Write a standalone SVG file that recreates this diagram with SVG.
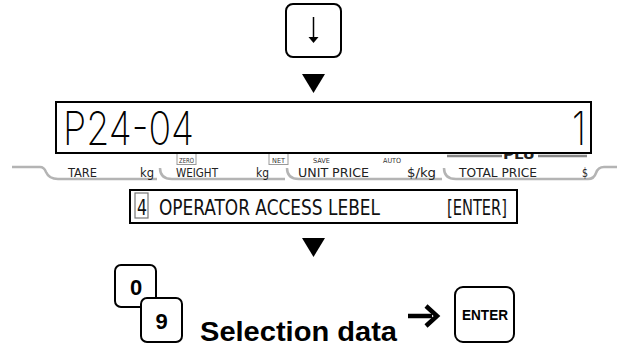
<svg xmlns="http://www.w3.org/2000/svg" width="620" height="349" viewBox="0 0 620 349">
<style>
.key{fill:#fff;stroke:#000;stroke-width:2}
.tri{fill:#000}
.tab{fill:none;stroke:#b4b4b4;stroke-width:2.5}
.lbl{font-family:"Liberation Sans Narrow","DejaVu Sans Condensed","Liberation Sans",sans-serif;font-size:12px;fill:#222}
.sm{font-family:"Liberation Sans Narrow","DejaVu Sans Condensed","Liberation Sans",sans-serif;font-size:7px;fill:#333}
.seg{font-family:Inter,"DejaVu Sans",sans-serif;font-weight:200;font-size:46px;fill:#000}
.msg{font-family:"Liberation Sans Narrow","DejaVu Sans Condensed","Liberation Sans",sans-serif;font-size:21px;fill:#111}
.kt{font-family:"Liberation Sans",Arial,sans-serif;font-weight:bold;fill:#000}
</style>
<g id="key-down">
<rect class="key" x="286" y="4" width="55" height="53" rx="7"/>
<line x1="313.5" y1="17" x2="313.5" y2="40" stroke="#000" stroke-width="1.5"/>
<path d="M308.5 37 L318.5 37 L313.5 43 Z" fill="#000"/>
</g>
<g id="connectors">
<path class="tri" d="M302 74 L325 74 L313.5 93 Z"/>
<path class="tri" d="M302 238 L325 238 L313.5 257 Z"/>
<line x1="408" y1="316" x2="432" y2="316" stroke="#000" stroke-width="4.5"/>
<path d="M426 306 L437 316 L426 326" fill="none" stroke="#000" stroke-width="4.5"/>
</g>
<g id="strip">
<text class="lbl" x="503" y="159" font-weight="bold" font-size="13" textLength="32" lengthAdjust="spacingAndGlyphs">PLU</text>
<line x1="447" y1="156" x2="502" y2="156" stroke="#888" stroke-width="2.5"/>
<line x1="538" y1="156" x2="587" y2="156" stroke="#888" stroke-width="2.5"/>
<path class="tab" d="M12 167 H40 Q44 167 46 172 Q49 179 58 179 H157"/>
<path class="tab" d="M160 168 Q160 179 172 179 H285"/>
<path class="tab" d="M287 168 Q287 179 299 179 H442"/>
<path class="tab" d="M444 168 Q444 179 456 179 H588 Q594 179 596 173 Q598 167 604 167 H617"/>
<text class="lbl" x="68" y="177" textLength="29" lengthAdjust="spacingAndGlyphs">TARE</text>
<text class="lbl" x="140" y="177" textLength="14" lengthAdjust="spacingAndGlyphs">kg</text>
<text class="lbl" x="176" y="177" textLength="42" lengthAdjust="spacingAndGlyphs">WEIGHT</text>
<text class="lbl" x="256" y="177" textLength="13" lengthAdjust="spacingAndGlyphs">kg</text>
<text class="lbl" x="298" y="177" textLength="71" lengthAdjust="spacingAndGlyphs">UNIT PRICE</text>
<text class="lbl" x="407" y="177" textLength="29" lengthAdjust="spacingAndGlyphs">$/kg</text>
<text class="lbl" x="459" y="177" textLength="78" lengthAdjust="spacingAndGlyphs">TOTAL PRICE</text>
<text class="lbl" x="582" y="177" textLength="6" lengthAdjust="spacingAndGlyphs">$</text>
<rect x="177" y="152.5" width="19" height="12" fill="none" stroke="#999" stroke-width="1"/>
<text class="sm" x="179" y="162.5" textLength="15" lengthAdjust="spacingAndGlyphs">ZERO</text>
<rect x="269" y="152.5" width="19" height="12" fill="none" stroke="#999" stroke-width="1"/>
<text class="sm" x="272" y="162.5" textLength="13" lengthAdjust="spacingAndGlyphs">NET</text>
<text class="sm" x="313" y="163" textLength="17" lengthAdjust="spacingAndGlyphs">SAVE</text>
<text class="sm" x="383" y="163" textLength="18" lengthAdjust="spacingAndGlyphs">AUTO</text>
</g>
<g id="lcd">
<rect x="56" y="102" width="535" height="51" fill="#fff" stroke="#000" stroke-width="2"/>
<text class="seg" x="63" y="145" textLength="131" lengthAdjust="spacingAndGlyphs">P24-04</text>
<text class="seg" x="572" y="145" textLength="14" lengthAdjust="spacingAndGlyphs">1</text>
</g>
<g id="message">
<rect x="130" y="190" width="387" height="33" fill="#fff" stroke="#000" stroke-width="2"/>
<rect x="135" y="193" width="13" height="25" fill="none" stroke="#777" stroke-width="1.2"/>
<text class="msg" x="137" y="215" textLength="10" lengthAdjust="spacingAndGlyphs">4</text>
<text class="msg" x="159" y="215" textLength="221" lengthAdjust="spacingAndGlyphs">OPERATOR ACCESS LEBEL</text>
<text class="msg" x="447" y="215" textLength="60" lengthAdjust="spacingAndGlyphs">[ENTER]</text>
</g>
<g id="key-0">
<rect class="key" x="115" y="265" width="41" height="42" rx="6"/>
<text class="kt" x="136" y="295" font-size="22" text-anchor="middle">0</text>
</g>
<g id="key-9">
<rect class="key" x="141" y="298" width="41" height="44" rx="6"/>
<text class="kt" x="161.5" y="329" font-size="22" text-anchor="middle">9</text>
</g>
<g id="selection-label">
<text class="kt" x="200" y="341" font-size="28" textLength="197" lengthAdjust="spacingAndGlyphs">Selection data</text>
</g>
<g id="key-enter">
<rect class="key" x="455" y="287" width="59" height="55" rx="8"/>
<text class="kt" x="462" y="320" font-size="15" textLength="46" lengthAdjust="spacingAndGlyphs">ENTER</text>
</g>
</svg>
